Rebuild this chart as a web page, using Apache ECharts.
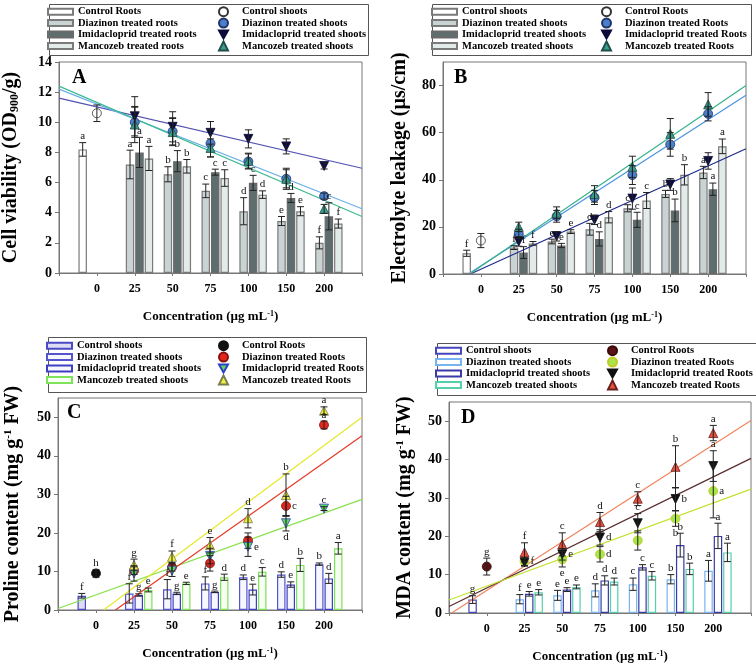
<!DOCTYPE html>
<html><head><meta charset="utf-8">
<script src="https://cdn.jsdelivr.net/npm/echarts@6/dist/echarts.min.js"></script>
<style>html,body{margin:0;padding:0;background:#fff}#c{width:756px;height:665px}</style>
</head><body><div id="c"></div><script>
// ---------------- DATA ----------------
const CATEGORIES = ['0', '25', '50', '75', '100', '150', '200'];

// Panel A: Cell viability (bars = roots, points = shoots)
const A_barCtrl = [8.2],  A_barCtrlErr = [0.45], A_barCtrlSig = ['a'];
const A_barDiaz = [7.2, 6.55, 5.45, 4.1, 3.45, 2.0], A_barDiazErr = [0.95, 0.5, 0.45, 0.9, 0.3, 0.4], A_barDiazSig = ['a','b','c','d','e','f'];
const A_barImid = [8.0, 7.42, 6.69, 5.98, 4.98, 3.76], A_barImidErr = [1.0, 0.7, 0.2, 0.5, 0.3, 0.9], A_barImidSig = ['a','b','c','c','d','c'];
const A_barManc = [7.6, 7.08, 6.3, 5.2, 4.1, 3.28], A_barMancErr = [0.8, 0.45, 0.55, 0.25, 0.3, 0.3], A_barMancSig = ['a','b','c','d','e','f'];
const A_ptCtrl = [10.6], A_ptCtrlErr = [0.55];
const A_ptDiaz = [10.0, 9.4, 8.6, 7.4, 6.25, 5.1], A_ptDiazErr = [1.0, 0.9, 0.9, 0.5, 0.6, 0.2];
const A_ptImid = [10.4, 9.7, 9.3, 8.9, 8.4, 7.1], A_ptImidErr = [1.3, 1.0, 0.75, 0.6, 0.5, 0.2];
const A_ptManc = [9.85, 9.35, 8.3, 7.45, 6.25, 4.25], A_ptMancErr = [1.2, 0.9, 0.6, 0.5, 0.7, 0.3];
const A_fitDiaz = [[-1, 12.2], [7, 4.26]];
const A_fitImid = [[-1, 11.6], [7, 6.95]];
const A_fitManc = [[-1, 12.4], [7, 3.75]];

// Panel B: Electrolyte leakage (bars = shoots, points = roots)
const B_barCtrl = [8.8], B_barCtrlErr = [1.3], B_barCtrlSig = ['f'];
const B_barDiaz = [11.2, 13.8, 19, 27.9, 34, 43.1], B_barDiazErr = [0.8, 1, 2.5, 1.5, 1.5, 2.6], B_barDiazSig = ['f','e','d','c','b','a'];
const B_barImid = [9.1, 12.1, 14.9, 23, 27, 36], B_barImidErr = [2.5, 0.9, 3, 3.2, 4.8, 2.6], B_barImidSig = ['f','e','d','c','b','a'];
const B_barManc = [13, 18, 24.1, 31.2, 42.1, 54.2], B_barMancErr = [0.8, 0.8, 2.4, 3.4, 4.3, 3.1], B_barMancSig = ['f','e','d','c','b','a'];
const B_ptCtrl = [14.2], B_ptCtrlErr = [3];
const B_ptDiaz = [17, 24.5, 32.5, 42, 55, 68], B_ptDiazErr = [2, 2.5, 3, 4, 5, 3];
const B_ptImid = [13.8, 16, 23, 32, 38, 48], B_ptImidErr = [2, 2, 2, 4.5, 2.5, 3.5];
const B_ptManc = [20, 26, 34, 45.5, 59.5, 72], B_ptMancErr = [2, 2.5, 3.5, 4.5, 6.5, 5];
const B_fitDiaz = [[-0.25, 0.9], [7, 75.9]];
const B_fitImid = [[-0.25, 0.2], [7, 53.2]];
const B_fitManc = [[-0.25, 0.5], [7, 80]];

// Panel C: Proline content (bars = shoots, points = roots)
const C_barCtrl = [3.7], C_barCtrlErr = [0.6], C_barCtrlSig = ['f'];
const C_barDiaz = [4.3, 5.4, 6.9, 8.5, 9.2, 11.9], C_barDiazErr = [2.5, 2.5, 1.7, 0.6, 0.7, 0.3], C_barDiazSig = ['f','f','f','d','d','b'];
const C_barImid = [3.9, 4.3, 4.7, 5.3, 6.6, 8.2], C_barImidErr = [0.3, 0.3, 0.2, 1.4, 0.7, 1.3], C_barImidSig = ['g','g','g','e','e','d'];
const C_barManc = [5.2, 6.9, 8.5, 9.9, 11.7, 16], C_barMancErr = [0.5, 0.3, 0.8, 1.1, 1.7, 1.5], C_barMancSig = ['e','e','d','c','b','a'];
const C_ptCtrl = [9.5], C_ptCtrlErr = [1], C_ptCtrlSig = ['h'];
const C_ptDiaz = [10.2, 11.1, 12.1, 18, 27, 48], C_ptDiazErr = [1, 1, 2, 2, 2.5, 1], C_ptDiazSig = ['', '', '', '', 'c', 'a'];
const C_ptImid = [9.5, 10.2, 14, 16.4, 22.5, 26.3], C_ptImidErr = [2, 1.5, 2, 2.5, 2, 0.5], C_ptImidSig = ['', '', '', 'e', 'd', 'c'];
const C_ptManc = [11.7, 13.8, 16.8, 23.8, 29.8, 51.7], C_ptMancErr = [1.5, 1.5, 2, 2.5, 5.5, 1], C_ptMancSig = ['g','f','e','d','b','a'];
const C_fitDiaz = [[0.51, 0], [7, 45.2]];
const C_fitImid = [[-1, 0.4], [7, 28.7]];
const C_fitManc = [[0.2, 0], [7, 50]];

// Panel D: MDA content (bars = shoots, points = roots)
const D_barCtrl = [3.5], D_barCtrlErr = [1.0], D_barCtrlSig = ['g'];
const D_barDiaz = [3.6, 4.6, 5.9, 7.5, 8.8, 11], D_barDiazErr = [1.2, 1.3, 1.7, 1.6, 1.2, 2.7], D_barDiazSig = ['f','e','d','c','b','a'];
const D_barImid = [5.0, 6.1, 8.5, 11.9, 17.7, 20.1], D_barImidErr = [0.6, 0.5, 1.2, 0.7, 3.1, 3.3], D_barImidSig = ['e','e','d','c','b','a'];
const D_barManc = [5.4, 6.8, 8.2, 9.7, 11.5, 15.8], D_barMancErr = [0.7, 0.5, 0.9, 1.1, 1.5, 2.4], D_barMancSig = ['e','e','d','c','b','a'];
const D_ptCtrl = [12.1], D_ptCtrlErr = [2.2], D_ptCtrlSig = ['g'];
const D_ptDiaz = [13.4, 14, 15.3, 18.9, 24.6, 31.8], D_ptDiazErr = [1, 2, 2, 2.5, 2, 7], D_ptDiazSig = ['f','e','d','','b','a'];
const D_ptImid = [13.2, 15.3, 19.7, 23.4, 29.7, 38.3], D_ptImidErr = [1, 1.5, 2, 2.5, 3, 4], D_ptImidSig = ['','e','d','c','b','a'];
const D_ptManc = [15.8, 17.9, 23.7, 29.8, 38.1, 46.9], D_ptMancErr = [2.5, 3, 2.5, 1.8, 5.5, 2], D_ptMancSig = ['f','c','d','c','b','a'];
const D_fitDiaz = [[-1, 3.4], [7, 32.3]];
const D_fitImid = [[-1, 1.7], [7, 40.3]];
const D_fitManc = [[-0.93, 0], [7, 50.2]];

// ---------------- STYLE / LAYOUT ----------------
const FONT = 'Liberation Serif';
const OFF = { ctrl: -0.375, diaz: -0.125, imid: 0.125, manc: 0.375 };
const INV_TRI = 'path://M0,0L10,0L5,9Z';
const GRIDS = [
  { left: 59, top: 62, width: 303, height: 211 },
  { left: 443, top: 62, width: 303, height: 212 },
  { left: 58, top: 398, width: 304, height: 212 },
  { left: 449, top: 402, width: 302, height: 211 }
];

const PANELS = [
  { key: 'A', ymax: 14, yint: 2, nameGap: 38,
    yname: 'Cell viability (OD{sub|900}/g)',
    legendL: { left: 47, top: 6 }, legendR: { left: 218, top: 6 }, box: [47, 2, 319, 51], letter: [72, 68],
    bars: [
      { name: 'Control Roots', v: A_barCtrl, e: A_barCtrlErr, s: A_barCtrlSig, start: 0, off: OFF.ctrl, fill: '#ffffff', bd: '#7a7a7a' },
      { name: 'Diazinon treated roots', v: A_barDiaz, e: A_barDiazErr, s: A_barDiazSig, start: 1, off: OFF.diaz, fill: '#c9d3d3', bd: '#7a7a7a' },
      { name: 'Imidacloprid treated roots', v: A_barImid, e: A_barImidErr, s: A_barImidSig, start: 1, off: OFF.imid, fill: '#5e6d6d', bd: '#6a6a6a' },
      { name: 'Mancozeb treated roots', v: A_barManc, e: A_barMancErr, s: A_barMancSig, start: 1, off: OFF.manc, fill: '#e3eaea', bd: '#7a7a7a' }
    ],
    pts: [
      { name: 'Control shoots', v: A_ptCtrl, e: A_ptCtrlErr, start: 0, sym: 'circle', fill: '#ffffff', bd: '#333' },
      { name: 'Diazinon treated shoots', v: A_ptDiaz, e: A_ptDiazErr, start: 1, sym: 'circle', fill: '#4a7fcc', bd: '#223366' },
      { name: 'Imidacloprid treated shoots', v: A_ptImid, e: A_ptImidErr, start: 1, sym: INV_TRI, fill: '#0c0c3c', bd: '#0c0c3c' },
      { name: 'Mancozeb treated shoots', v: A_ptManc, e: A_ptMancErr, start: 1, sym: 'triangle', fill: '#3a9c8c', bd: '#1f4f48' }
    ],
    fits: [ { d: A_fitImid, c: '#5252b0' }, { d: A_fitDiaz, c: '#6cb0ea' }, { d: A_fitManc, c: '#3cba92' } ]
  },
  { key: 'B', ymax: 90, yint: 20, nameGap: 33,
    yname: 'Electrolyte leakage (µs/cm)',
    legendL: { left: 431, top: 6 }, legendR: { left: 601, top: 6 }, box: [430, 2, 319, 51], letter: [454, 68],
    bars: [
      { name: 'Control shoots', v: B_barCtrl, e: B_barCtrlErr, s: B_barCtrlSig, start: 0, off: OFF.ctrl, fill: '#ffffff', bd: '#7a7a7a' },
      { name: 'Diazinon treated shoots', v: B_barDiaz, e: B_barDiazErr, s: B_barDiazSig, start: 1, off: OFF.diaz, fill: '#c9d3d3', bd: '#7a7a7a' },
      { name: 'Imidacloprid treated shoots', v: B_barImid, e: B_barImidErr, s: B_barImidSig, start: 1, off: OFF.imid, fill: '#5e6d6d', bd: '#6a6a6a' },
      { name: 'Mancozeb treated shoots', v: B_barManc, e: B_barMancErr, s: B_barMancSig, start: 1, off: OFF.manc, fill: '#e3eaea', bd: '#7a7a7a' }
    ],
    pts: [
      { name: 'Control Roots', v: B_ptCtrl, e: B_ptCtrlErr, start: 0, sym: 'circle', fill: '#ffffff', bd: '#333' },
      { name: 'Diazinon treated Roots', v: B_ptDiaz, e: B_ptDiazErr, start: 1, sym: 'circle', fill: '#4a7fcc', bd: '#223366' },
      { name: 'Imidacloprid treated Roots', v: B_ptImid, e: B_ptImidErr, start: 1, sym: INV_TRI, fill: '#0c0c3c', bd: '#0c0c3c' },
      { name: 'Mancozeb treated Roots', v: B_ptManc, e: B_ptMancErr, start: 1, sym: 'triangle', fill: '#3a9c8c', bd: '#1f4f48' }
    ],
    fits: [ { d: B_fitImid, c: '#1e2a8a' }, { d: B_fitDiaz, c: '#4a92e2' }, { d: B_fitManc, c: '#36b28c' } ]
  },
  { key: 'C', ymax: 55, yint: 10, nameGap: 35,
    yname: 'Proline content (mg g{sup|-1} FW)',
    legendL: { left: 46, top: 340 }, legendR: { left: 218, top: 340 }, box: [46, 335, 318, 55], letter: [67, 403],
    bars: [
      { name: 'Control shoots', v: C_barCtrl, e: C_barCtrlErr, s: C_barCtrlSig, start: 0, off: OFF.ctrl, fill: '#dcdcf4', bd: '#4a4ac4' },
      { name: 'Diazinon treated shoots', v: C_barDiaz, e: C_barDiazErr, s: C_barDiazSig, start: 1, off: OFF.diaz, fill: '#f6f6ff', bd: '#5454cc' },
      { name: 'Imidacloprid treated shoots', v: C_barImid, e: C_barImidErr, s: C_barImidSig, start: 1, off: OFF.imid, fill: '#f6f6ff', bd: '#3e3ec4' },
      { name: 'Mancozeb treated shoots', v: C_barManc, e: C_barMancErr, s: C_barMancSig, start: 1, off: OFF.manc, fill: '#f6fff2', bd: '#7ee25a' }
    ],
    pts: [
      { name: 'Control Roots', v: C_ptCtrl, e: C_ptCtrlErr, s: C_ptCtrlSig, start: 0, sym: 'circle', fill: '#111111', bd: '#111111' },
      { name: 'Diazinon treated Roots', v: C_ptDiaz, e: C_ptDiazErr, s: C_ptDiazSig, pos: ['', '', '', '', 'r', 't'], start: 1, sym: 'circle', fill: '#e2261c', bd: '#8a1010' },
      { name: 'Imidacloprid treated Roots', v: C_ptImid, e: C_ptImidErr, s: C_ptImidSig, pos: ['', '', '', 'r', 'b', 't'], start: 1, sym: INV_TRI, fill: '#5cd85c', bd: '#3040c8' },
      { name: 'Mancozeb treated Roots', v: C_ptManc, e: C_ptMancErr, s: C_ptMancSig, start: 1, sym: 'triangle', fill: '#eef03c', bd: '#7a7a50' }
    ],
    fits: [ { d: C_fitImid, c: '#86e04a' }, { d: C_fitManc, c: '#e6e82a' }, { d: C_fitDiaz, c: '#e63a26' } ]
  },
  { key: 'D', ymax: 55, yint: 10, nameGap: 34,
    yname: 'MDA content (mg g{sup|-1} FW)',
    legendL: { left: 435, top: 345 }, legendR: { left: 607, top: 345 }, box: [435, 341, 319, 52], letter: [461, 408],
    bars: [
      { name: 'Control shoots', v: D_barCtrl, e: D_barCtrlErr, s: D_barCtrlSig, start: 0, off: OFF.ctrl, fill: '#ffffff', bd: '#4646bc' },
      { name: 'Diazinon treated shoots', v: D_barDiaz, e: D_barDiazErr, s: D_barDiazSig, start: 1, off: OFF.diaz, fill: '#ffffff', bd: '#78b4f0' },
      { name: 'Imidacloprid treated shoots', v: D_barImid, e: D_barImidErr, s: D_barImidSig, start: 1, off: OFF.imid, fill: '#ffffff', bd: '#3a3aa8' },
      { name: 'Mancozeb treated shoots', v: D_barManc, e: D_barMancErr, s: D_barMancSig, start: 1, off: OFF.manc, fill: '#ffffff', bd: '#56d0aa' }
    ],
    pts: [
      { name: 'Control Roots', v: D_ptCtrl, e: D_ptCtrlErr, s: D_ptCtrlSig, start: 0, sym: 'circle', fill: '#5a1414', bd: '#3a0a0a' },
      { name: 'Diazinon treated Roots', v: D_ptDiaz, e: D_ptDiazErr, s: D_ptDiazSig, pos: ['r', 'b', 'r', '', 'b', 'r'], start: 1, sym: 'circle', fill: '#a6e64a', bd: '#c8c820' },
      { name: 'Imidacloprid treated Roots', v: D_ptImid, e: D_ptImidErr, s: D_ptImidSig, pos: ['', 'r', 'r', 't', 'r', 't'], start: 1, sym: INV_TRI, fill: '#111111', bd: '#111111' },
      { name: 'Mancozeb treated Roots', v: D_ptManc, e: D_ptMancErr, s: D_ptMancSig, start: 1, sym: 'triangle', fill: '#e8503c', bd: '#6a2020' }
    ],
    fits: [ { d: D_fitManc, c: '#f2845e' }, { d: D_fitImid, c: '#5a2c2c' }, { d: D_fitDiaz, c: '#c2e22e' } ]
  }
];

// ---------------- BUILD ----------------
function toXY(vals, start, off) { return vals.map((v, i) => [start + i + off, v]); }

function errSeries(gi, pts, errs, sigs, pos) {
  return {
    type: 'custom', xAxisIndex: gi, yAxisIndex: gi, z: 6, silent: true,
    data: pts.map((p, i) => [p[0], p[1], errs ? errs[i] : 0]),
    renderItem(params, api) {
      const i = params.dataIndex;
      const x = api.value(0), y = api.value(1), e = api.value(2) || 0;
      const pT = api.coord([x, y + e]), pB = api.coord([x, y - e]), pC = api.coord([x, y]);
      const cap = 3.5, st = { stroke: '#222', lineWidth: 1 };
      const ch = [];
      if (e > 0) {
        ch.push({ type: 'line', shape: { x1: pT[0], y1: pT[1], x2: pB[0], y2: pB[1] }, style: st });
        ch.push({ type: 'line', shape: { x1: pT[0] - cap, y1: pT[1], x2: pT[0] + cap, y2: pT[1] }, style: st });
        ch.push({ type: 'line', shape: { x1: pB[0] - cap, y1: pB[1], x2: pB[0] + cap, y2: pB[1] }, style: st });
      }
      const s = sigs ? sigs[i] : '';
      if (s) {
        const p = (pos && pos[i]) || 't';
        let tx = pT[0], ty = pT[1] - 1, align = 'center', va = 'bottom';
        if (p === 'r') { tx = pC[0] + 6; ty = pC[1]; align = 'left'; va = 'middle'; }
        if (p === 'b') { tx = pB[0]; ty = pB[1] + 1; va = 'top'; }
        ch.push({ type: 'text', style: { x: tx, y: ty, text: s, align: align, verticalAlign: va, font: '11px "' + FONT + '"', fill: '#111' } });
      }
      return { type: 'group', children: ch };
    }
  };
}

const series = [], legends = [], xAxes = [], yAxes = [], graphics = [];
const nameFmt = n => n.split('|')[1];
const legendText = { fontFamily: FONT, fontWeight: 'bold', fontSize: 10.5, lineHeight: 11.4, color: '#000' };
const legendTextR = Object.assign({}, legendText, { padding: [0, 0, 0, 9] });
const richSub = {
  sub: { fontFamily: FONT, fontWeight: 'bold', fontSize: 12, verticalAlign: 'bottom', color: '#000' },
  sup: { fontFamily: FONT, fontWeight: 'bold', fontSize: 11, verticalAlign: 'top', color: '#000' }
};

PANELS.forEach((P, gi) => {
  xAxes.push({
    gridIndex: gi, type: 'value', min: -1, max: 7, interval: 1,
    axisLine: { onZero: false, lineStyle: { color: '#777' } },
    axisTick: { length: 3, lineStyle: { color: '#777' } },
    splitLine: { show: false },
    axisLabel: { formatter: v => CATEGORIES[v] ?? '', fontFamily: FONT, fontWeight: 'bold', fontSize: 12, color: '#000', margin: 10 },
    name: 'Concentration (µg mL{sup|-1})', nameLocation: 'middle', nameGap: 37,
    nameTextStyle: { fontFamily: FONT, fontWeight: 'bold', fontSize: 13, color: '#000',
      rich: { sup: { fontFamily: FONT, fontWeight: 'bold', fontSize: 8, verticalAlign: 'top', color: '#000' } } }
  });
  yAxes.push({
    gridIndex: gi, type: 'value', min: 0, max: P.ymax, interval: P.yint,
    axisLine: { show: true, onZero: false, lineStyle: { color: '#777' } },
    axisTick: { show: true, length: 4, lineStyle: { color: '#777' } },
    splitLine: { show: false },
    axisLabel: { showMaxLabel: P.ymax % P.yint === 0, fontFamily: FONT, fontWeight: 'bold', fontSize: 14, color: '#000', margin: 7 },
    name: P.yname, nameLocation: 'middle', nameGap: P.nameGap,
    nameTextStyle: { fontFamily: FONT, fontWeight: 'bold', fontSize: 20, color: '#000', rich: richSub }
  });

  const barNames = [], ptNames = [];
  P.bars.forEach(b => {
    const nm = P.key + '|' + b.name; barNames.push(nm);
    const d = toXY(b.v, b.start, b.off);
    series.push({ type: 'bar', name: nm, xAxisIndex: gi, yAxisIndex: gi, data: d, barWidth: 8.5, barGap: '-100%', z: 2,
      itemStyle: { color: b.fill, borderColor: b.bd, borderWidth: 1.2 } });
    series.push(errSeries(gi, d, b.e, b.s, null));
  });
  P.fits.forEach(f => {
    series.push({ type: 'line', xAxisIndex: gi, yAxisIndex: gi, data: f.d, symbol: 'none', silent: true, z: 3,
      lineStyle: { color: f.c, width: 1.2 } });
  });
  P.pts.forEach(p => {
    const nm = P.key + '|' + p.name; ptNames.push(nm);
    const d = toXY(p.v, p.start, 0);
    series.push({ type: 'scatter', name: nm, xAxisIndex: gi, yAxisIndex: gi, data: d, symbol: p.sym, symbolSize: 9, z: 4,
      itemStyle: { color: p.fill, borderColor: p.bd, borderWidth: 0.8, opacity: 1 } });
    series.push(errSeries(gi, d, p.e, p.s, p.pos));
  });

  legends.push({ left: P.legendL.left, top: P.legendL.top, orient: 'vertical', padding: 0, itemGap: 0,
    itemWidth: 25, itemHeight: 6, icon: 'rect', selectedMode: false, data: barNames, formatter: nameFmt, textStyle: legendText });
  legends.push({ left: P.legendR.left, top: P.legendR.top, orient: 'vertical', padding: 0, itemGap: 0,
    itemWidth: 9, itemHeight: 9, selectedMode: false, data: ptNames, formatter: nameFmt, textStyle: legendTextR });

  graphics.push({ type: 'rect', left: P.box[0], top: P.box[1], silent: true,
    shape: { width: P.box[2], height: P.box[3] }, style: { fill: 'none', stroke: '#555', lineWidth: 1 } });
  graphics.push({ type: 'text', left: P.letter[0], top: P.letter[1], silent: true,
    style: { text: P.key, font: 'bold 20px "' + FONT + '"', fill: '#000' } });
});

const chart = echarts.init(document.getElementById('c'), null, { renderer: 'canvas' });
chart.setOption({
  animation: false,
  backgroundColor: '#fff',
  grid: GRIDS.map(g => Object.assign({ show: true, borderColor: '#777', borderWidth: 1, backgroundColor: 'transparent' }, g)),
  xAxis: xAxes, yAxis: yAxes, legend: legends, graphic: graphics, series: series
});
</script></body></html>
